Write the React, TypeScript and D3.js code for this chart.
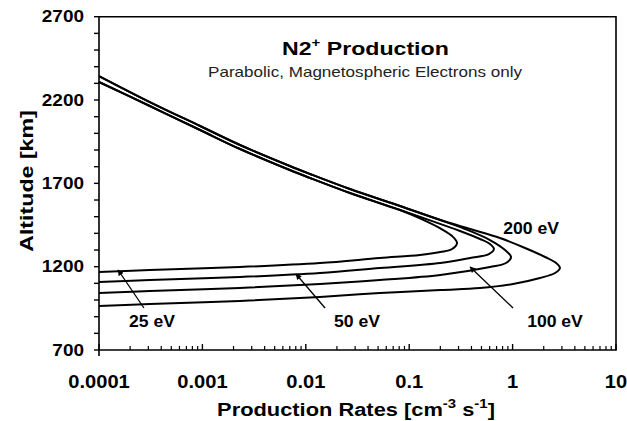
import React from "react";
import * as d3 from "d3";

type P = [number, number];

// Shared upper branches (rate [cm^-3 s^-1], altitude [km])
const upperHigh: P[] = [[1e-4, 2344], [3.1e-4, 2188], [9.5e-4, 2044], [2.31e-3, 1930], [7.0e-3, 1804], [0.011, 1756], [0.0267, 1666], [0.0815, 1564], [0.2, 1480]];
const upperLow: P[] = [[1e-4, 2308], [3.1e-4, 2164], [9.5e-4, 2020], [2.31e-3, 1906], [7.0e-3, 1780], [0.011, 1732], [0.0267, 1642], [0.0815, 1540]];

const tail25: P[] = [[0.127, 1490], [0.2, 1430], [0.26, 1384], [0.29, 1342], [0.26, 1306], [0.2, 1288], [0.127, 1270], [0.052, 1252], [0.0137, 1222], [0.0023, 1198], [3.1e-4, 1180], [1e-4, 1168]];
const tail50: P[] = [[0.159, 1478], [0.31, 1414], [0.484, 1366], [0.604, 1336], [0.66, 1306], [0.59, 1276], [0.388, 1252], [0.2, 1222], [0.052, 1192], [0.0137, 1162], [0.0023, 1138], [3.1e-4, 1120], [1e-4, 1108]];
const tail100: P[] = [[0.347, 1426], [0.604, 1360], [0.845, 1300], [0.966, 1258], [0.863, 1222], [0.604, 1198], [0.2, 1150], [0.052, 1120], [0.0137, 1096], [0.0023, 1072], [3.1e-4, 1054], [1e-4, 1042]];
const tail200: P[] = [[0.388, 1426], [0.755, 1372], [1.32, 1312], [2.06, 1258], [2.63, 1222], [2.87, 1192], [2.57, 1162], [1.84, 1132], [1.01, 1096], [0.484, 1072], [0.2, 1060], [0.052, 1042], [0.0137, 1018], [0.0023, 994], [3.1e-4, 976], [1e-4, 964]];

const series: P[][] = [
  [...upperLow, ...tail25],
  [...upperLow, ...tail50],
  [...upperHigh, ...tail100],
  [...upperHigh, ...tail200],
];

// annotations: label text, label position, arrow tip, arrow tail
const labels = ["25 eV", "50 eV", "100 eV", "200 eV"];
const labelPos: P[] = [[3.26e-4, 868], [0.0313, 868], [2.57, 868], [1.51, 1426]];
const arrowTips: (P | null)[] = [[1.53e-4, 1180], [8.03e-3, 1156], [0.388, 1198], null];
const arrowTails: (P | null)[] = [[2.72e-4, 952], [0.01535, 952], [1.01, 952], null];

const xDecades = [1e-4, 1e-3, 1e-2, 1e-1, 1, 10];
const xTickLabels = ["0.0001", "0.001", "0.01", "0.1", "1", "10"];
const yMajor = [700, 1200, 1700, 2200, 2700];

const FONT = "'Liberation Sans', Arial, Helvetica, sans-serif";
const SX = 1.15;

export default function App() {
  const x = d3.scaleLog().domain([1e-4, 10]).range([99, 616]);
  const y = d3.scaleLinear().domain([700, 2700]).range([350, 16.7]);
  const line = d3
    .line<P>()
    .x((d) => x(d[0]))
    .y((d) => y(d[1]))
    .curve(d3.curveCatmullRom.alpha(0.5));

  const minorX: number[] = [];
  for (let e = -4; e < 1; e++) {
    for (let k = 2; k <= 9; k++) minorX.push(k * Math.pow(10, e));
  }
  const yTicks = d3.range(700, 2701, 100);

  const [x0, x1] = x.range();
  const [yb, yt] = y.range();

  return (
    <svg
      width={627}
      height={421}
      style={{ position: "absolute", left: 0, top: 0, background: "#fff" }}
      fontFamily={FONT}
    >
      <defs>
        <marker id="ah" viewBox="0 0 10 10" refX="9" refY="5" markerWidth="7" markerHeight="6" orient="auto" markerUnits="userSpaceOnUse">
          <path d="M0,0 L10,5 L0,10 z" fill="#000" />
        </marker>
      </defs>
      <rect x={0} y={0} width={627} height={421} fill="#fff" />

      {/* frame */}
      <path d={`M${x0},${yt} H${x1} V${yb} H${x0} Z`} fill="none" stroke="#000" strokeWidth={1.6} />
      <line x1={x0} x2={x0} y1={yb} y2={yb + 6} stroke="#000" strokeWidth={1.6} />

      {/* y ticks */}
      {yTicks.map((t) => (
        <line key={t} x1={x0 - 5} x2={x0} y1={y(t)} y2={y(t)} stroke="#000" strokeWidth={1.4} />
      ))}
      {yMajor.map((t) => (
        <text key={t} transform={`translate(${x0 - 15},${y(t)}) scale(${SX},1)`} textAnchor="end" dominantBaseline="central" fontSize={16.5} fontWeight="bold">
          {t}
        </text>
      ))}

      {/* x ticks */}
      {xDecades.map((t) => (
        <line key={t} x1={x(t)} x2={x(t)} y1={yb} y2={yb - 6} stroke="#000" strokeWidth={1.4} />
      ))}
      {minorX.map((t) => (
        <line key={t} x1={x(t)} x2={x(t)} y1={yb} y2={yb - 4} stroke="#000" strokeWidth={1.2} />
      ))}
      {xDecades.map((t, i) => (
        <text key={t} transform={`translate(${x(t)},388) scale(${SX},1)`} textAnchor="middle" fontSize={17.5} fontWeight="bold">
          {xTickLabels[i]}
        </text>
      ))}

      {/* axis titles */}
      <text transform={`translate(356,416) scale(${SX},1)`} textAnchor="middle" fontSize={19} fontWeight="bold">
        Production Rates [cm
        <tspan fontSize={13} dy={-8}>-3</tspan>
        <tspan dy={8}> s</tspan>
        <tspan fontSize={13} dy={-8}>-1</tspan>
        <tspan dy={8}>]</tspan>
      </text>
      <text transform={`translate(33,181) rotate(-90) scale(1.22,1)`} textAnchor="middle" fontSize={19} fontWeight="bold">
        Altitude [km]
      </text>

      {/* title */}
      <text transform={`translate(282,55) scale(1.25,1)`} fontSize={18.5} fontWeight="bold">
        N2
        <tspan fontSize={12} dy={-8}>+</tspan>
        <tspan dy={8}> Production</tspan>
      </text>
      <text transform={`translate(208,77) scale(1.22,1)`} fontSize={14} fill="#222">
        Parabolic, Magnetospheric Electrons only
      </text>

      {/* curves */}
      {series.map((s, i) => (
        <path key={i} d={line(s) || ""} fill="none" stroke="#000" strokeWidth={2} />
      ))}

      {/* annotations */}
      {labels.map((l, i) => {
        const tip = arrowTips[i];
        const tail = arrowTails[i];
        return (
          <g key={l}>
            {tip && tail && (
              <line x1={x(tail[0])} y1={y(tail[1])} x2={x(tip[0])} y2={y(tip[1])} stroke="#000" strokeWidth={1.3} markerEnd="url(#ah)" />
            )}
            <text transform={`translate(${x(labelPos[i][0])},${y(labelPos[i][1])}) scale(1.1,1)`} textAnchor="middle" dominantBaseline="central" fontSize={16} fontWeight="bold">
              {l}
            </text>
          </g>
        );
      })}
    </svg>
  );
}
